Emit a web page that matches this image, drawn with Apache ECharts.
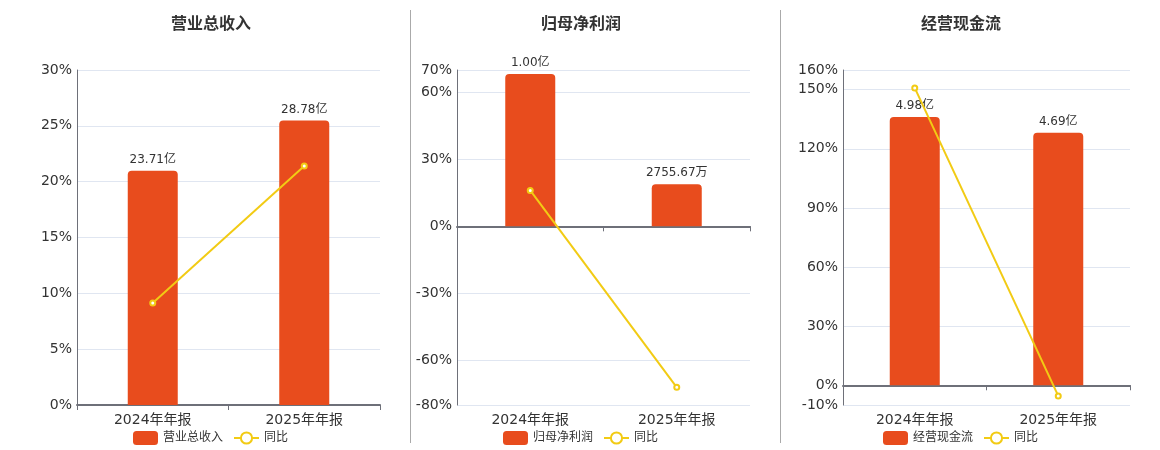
<!DOCTYPE html>
<html>
<head>
<meta charset="utf-8">
<script src="https://cdn.jsdelivr.net/npm/echarts@6/dist/echarts.min.js"></script>
<style>
  html, body { margin: 0; padding: 0; background: #fff; }
  #main { width: 1160px; height: 450px; }
</style>
</head>
<body>
<div id="main"></div>
<script>
var categories = ['2024年年报', '2025年年报']
var titles = ['营业总收入', '归母净利润', '经营现金流']

// bar values in 亿, label text as shown
var revenue = [23.71, 28.78]
var netProfit = [1.00, 0.275567]
var cashFlow = [4.98, 4.69]
var revenueLabels = ['23.71亿', '28.78亿']
var netProfitLabels = ['1.00亿', '2755.67万']
var cashFlowLabels = ['4.98亿', '4.69亿']

// 同比 (%)
var revenueYoy = [9.13, 21.4]
var netProfitYoy = [16.1, -72.1]
var cashFlowYoy = [150.9, -5.4]

// percent axis ranges
var pctMin = [0, -80, -10]
var pctMax = [30, 70, 160]
// hidden bar axis ranges (亿)
var barMin = [0, -1.1726, -0.3658]
var barMax = [33.9, 1.026, 5.853]

var barColor = '#E84C1D'
var lineColor = '#F2CB14'
var font = '"DejaVu Sans", "Noto Sans CJK SC", sans-serif'

var grids = [
  { left: 77, top: 70, width: 303, height: 335 },
  { left: 457, top: 70, width: 293, height: 335 },
  { left: 843, top: 70, width: 287, height: 335 }
]
var centers = [206, 576, 956]
var legendLeft = [128, 498, 878]
var bars = [revenue, netProfit, cashFlow]
var barLabels = [revenueLabels, netProfitLabels, cashFlowLabels]
var yoys = [revenueYoy, netProfitYoy, cashFlowYoy]

var chart = echarts.init(document.getElementById('main'))

var option = {
  animation: false,
  textStyle: { fontFamily: font },
  title: [],
  legend: [],
  grid: grids,
  xAxis: [],
  yAxis: [],
  series: [],
  graphic: [
    { type: 'line', shape: { x1: 410.5, y1: 10, x2: 410.5, y2: 443 }, style: { stroke: '#aaa', lineWidth: 1 } },
    { type: 'line', shape: { x1: 780.5, y1: 10, x2: 780.5, y2: 443 }, style: { stroke: '#aaa', lineWidth: 1 } }
  ]
}

for (var i = 0; i < 3; i++) {
  option.title.push({
    text: titles[i],
    left: centers[i],
    textAlign: 'center',
    top: 12,
    textStyle: { fontSize: 16, fontWeight: 'bold', color: '#333', fontFamily: font }
  })
  option.legend.push({
    data: [titles[i], '同比'],
    left: legendLeft[i],
    top: 426,
    itemWidth: 25,
    itemHeight: 14,
    itemGap: 10,
    textStyle: { fontSize: 12, color: '#333', fontFamily: font },
    selectedMode: false
  })
  option.xAxis.push({
    type: 'category',
    gridIndex: i,
    data: categories,
    axisLine: { onZero: true, onZeroAxisIndex: i * 2, lineStyle: { color: '#6E7079', width: 2 } },
    axisTick: { show: true, lineStyle: { color: '#6E7079' } },
    axisLabel: { color: '#333', fontSize: 14, margin: 8, fontFamily: font, interval: 0 }
  })
  option.yAxis.push({
    type: 'value',
    gridIndex: i,
    min: pctMin[i],
    max: pctMax[i],
    interval: i === 0 ? 5 : undefined,
    axisLine: { show: true, lineStyle: { color: '#6E7079' } },
    axisTick: { show: false },
    axisLabel: { color: '#333', fontSize: 14, margin: 5, formatter: '{value}%', fontFamily: font },
    splitLine: { lineStyle: { color: '#E0E6F1' } }
  })
  option.yAxis.push({
    type: 'value',
    gridIndex: i,
    min: barMin[i],
    max: barMax[i],
    show: false,
    splitLine: { show: false }
  })
  ;(function (labels) {
    option.series.push({
      name: titles[i],
      type: 'bar',
      xAxisIndex: i,
      yAxisIndex: i * 2 + 1,
      data: bars[i],
      barWidth: 50,
      itemStyle: { color: barColor, borderRadius: [4, 4, 0, 0] },
      label: {
        show: true,
        position: 'top',
        distance: 5,
        color: '#333',
        fontSize: 12,
        fontFamily: font,
        formatter: function (p) { return labels[p.dataIndex] }
      }
    })
  })(barLabels[i])
  option.series.push({
    name: '同比',
    type: 'line',
    xAxisIndex: i,
    yAxisIndex: i * 2,
    data: yoys[i],
    symbol: 'emptyCircle',
    symbolSize: 5,
    lineStyle: { color: lineColor, width: 2 },
    itemStyle: { color: lineColor, borderWidth: 2 },
    z: 5
  })
}

chart.setOption(option)
</script>
</body>
</html>
